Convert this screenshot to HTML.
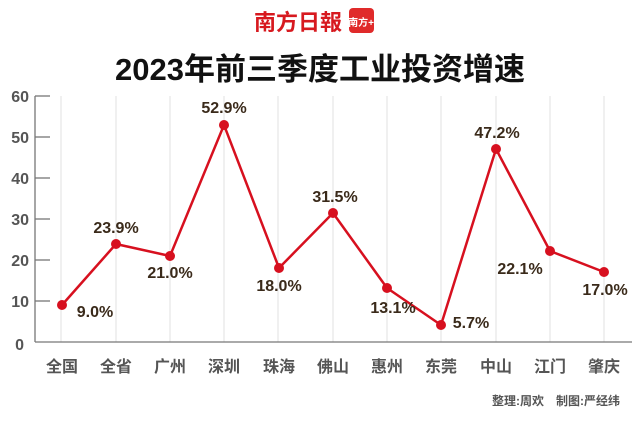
<!DOCTYPE html>
<html><head><meta charset="utf-8"><style>
body{margin:0;background:#fff;}
svg text{font-family:"Liberation Sans","Noto Sans CJK SC",sans-serif;}
</style></head><body>
<svg width="640" height="418" viewBox="0 0 640 418" xmlns="http://www.w3.org/2000/svg">
<rect width="640" height="418" fill="#fff"/>
<text x="298" y="30" font-family="Noto Serif CJK SC,serif" font-size="22" font-weight="bold" fill="#d7191f" text-anchor="middle">南方日報</text>
<rect x="349" y="8" width="25" height="25" rx="4" fill="#e02a2a"/>
<text x="361" y="26" font-size="10" font-weight="bold" fill="#fff" text-anchor="middle">南方+</text>
<text x="320" y="80" font-size="31" font-weight="bold" fill="#111" text-anchor="middle">2023年前三季度工业投资增速</text>
<g stroke="#e2e2e2" stroke-width="1">
<line x1="61" y1="96" x2="61" y2="342"/><line x1="116" y1="96" x2="116" y2="342"/><line x1="170" y1="96" x2="170" y2="342"/><line x1="224" y1="96" x2="224" y2="342"/><line x1="278" y1="96" x2="278" y2="342"/><line x1="333" y1="96" x2="333" y2="342"/><line x1="387" y1="96" x2="387" y2="342"/><line x1="441" y1="96" x2="441" y2="342"/><line x1="496" y1="96" x2="496" y2="342"/><line x1="550" y1="96" x2="550" y2="342"/><line x1="604" y1="96" x2="604" y2="342"/>
</g>
<g stroke="#777" stroke-width="1.3">
<line x1="35" y1="96" x2="35" y2="342"/><line x1="35" y1="342" x2="632" y2="342"/>
<line x1="35" y1="96" x2="50" y2="96"/><line x1="35" y1="137" x2="50" y2="137"/><line x1="35" y1="178" x2="50" y2="178"/><line x1="35" y1="219" x2="50" y2="219"/><line x1="35" y1="260" x2="50" y2="260"/><line x1="35" y1="301" x2="50" y2="301"/>
</g>
<g font-size="16" font-weight="bold" fill="#555" text-anchor="end">
<text x="29" y="102">60</text><text x="29" y="143">50</text><text x="29" y="184">40</text><text x="29" y="225">30</text><text x="29" y="266">20</text><text x="29" y="307">10</text><text x="24" y="350">0</text>
</g>
<g font-size="16" font-weight="bold" fill="#555" text-anchor="middle">
<text x="62" y="372">全国</text><text x="116" y="372">全省</text><text x="170" y="372">广州</text><text x="224" y="372">深圳</text><text x="279" y="372">珠海</text><text x="333" y="372">佛山</text><text x="387" y="372">惠州</text><text x="441" y="372">东莞</text><text x="496" y="372">中山</text><text x="550" y="372">江门</text><text x="604" y="372">肇庆</text>
</g>
<polyline fill="none" stroke="#d7101f" stroke-width="2.5" stroke-linejoin="round" points="62,305 116,244 170,256 224,125 279,268 333,213 387,288 441,325 496,149 550,251 604,272"/>
<g fill="#d7101f">
<circle cx="62" cy="305" r="5"/><circle cx="116" cy="244" r="5"/><circle cx="170" cy="256" r="5"/><circle cx="224" cy="125" r="5"/><circle cx="279" cy="268" r="5"/><circle cx="333" cy="213" r="5"/><circle cx="387" cy="288" r="5"/><circle cx="441" cy="325" r="5"/><circle cx="496" cy="149" r="5"/><circle cx="550" cy="251" r="5"/><circle cx="604" cy="272" r="5"/>
</g>
<g font-size="16" font-weight="bold" fill="#3a2a1a" text-anchor="middle">
<text x="95" y="317">9.0%</text><text x="116" y="233">23.9%</text><text x="170" y="278">21.0%</text><text x="224" y="113">52.9%</text><text x="279" y="291">18.0%</text><text x="335" y="202">31.5%</text><text x="393" y="313">13.1%</text><text x="471" y="328">5.7%</text><text x="497" y="138">47.2%</text><text x="520" y="274">22.1%</text><text x="605" y="295">17.0%</text>
</g>
<text x="620" y="405" font-size="12" font-weight="bold" fill="#555" text-anchor="end">整理:周欢　制图:严经纬</text>
</svg>
</body></html>
